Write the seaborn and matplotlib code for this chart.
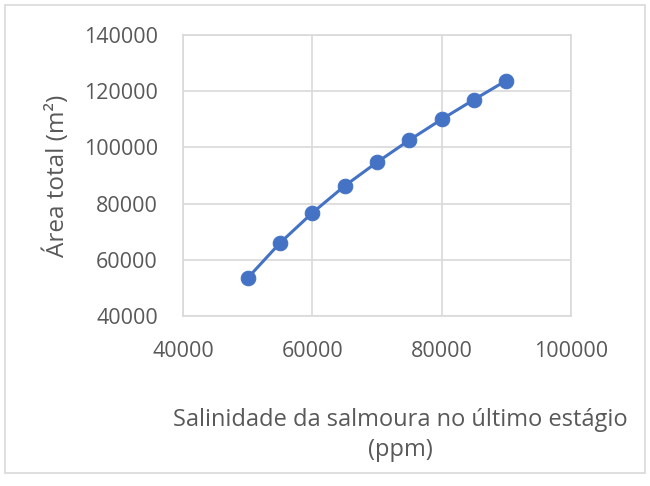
import matplotlib
matplotlib.use("Agg")
import matplotlib.pyplot as plt
import seaborn as sns
import pandas as pd
from matplotlib.patches import Rectangle

salinidade = [50000, 55000, 60000, 65000, 70000, 75000, 80000, 85000, 90000]
area_total = [53500, 66000, 76700, 86300, 94700, 102600, 110000, 117000, 123800]
x_ticks = [40000, 60000, 80000, 100000]
y_ticks = [40000, 60000, 80000, 100000, 120000, 140000]

sns.set_theme(style="white")
plt.rcParams['font.family'] = ['Open Sans', 'DejaVu Sans']

text_color = "#595959"
grid_color = "#d9d9d9"
blue = "#4472C4"

fig = plt.figure(figsize=(6.5, 4.86), dpi=100)
ax = fig.add_axes([183/650, 1 - 316/486, (571-183)/650, (316-35)/486])

df = pd.DataFrame({"x": salinidade, "y": area_total})
sns.lineplot(data=df, x="x", y="y", ax=ax, color=blue, linewidth=2.2,
             marker="o", markersize=10.5, markeredgecolor=blue, markerfacecolor=blue,
             zorder=3)

ax.set_xlim(40000, 100000)
ax.set_ylim(40000, 140000)
ax.set_xticks(x_ticks)
ax.set_yticks(y_ticks)
ax.set_xticklabels([str(v) for v in x_ticks])
ax.set_yticklabels([str(v) for v in y_ticks])
ax.grid(True, color=grid_color, linewidth=1.2)
ax.set_axisbelow(True)
for s in ax.spines.values():
    s.set_color(grid_color)
    s.set_linewidth(1.2)
ax.tick_params(axis="both", length=0, labelsize=15.5, labelcolor=text_color, pad=18)

ax.set_xlabel("")
ax.set_ylabel("Área total (m²)", fontsize=17.5, color=text_color, labelpad=10)

fig.text(400/650, 1 - 420/486, "Salinidade da salmoura no último estágio",
         ha="center", va="center", fontsize=17, color=text_color)
fig.text(400/650, 1 - 450/486, "(ppm)",
         ha="center", va="center", fontsize=17, color=text_color)

fig.patches.append(Rectangle((5/650, 1 - 473/486), 640/650, 468/486,
                             transform=fig.transFigure, fill=False,
                             edgecolor=grid_color, linewidth=1.2))

fig.savefig("out.png", dpi=100, facecolor="white")
